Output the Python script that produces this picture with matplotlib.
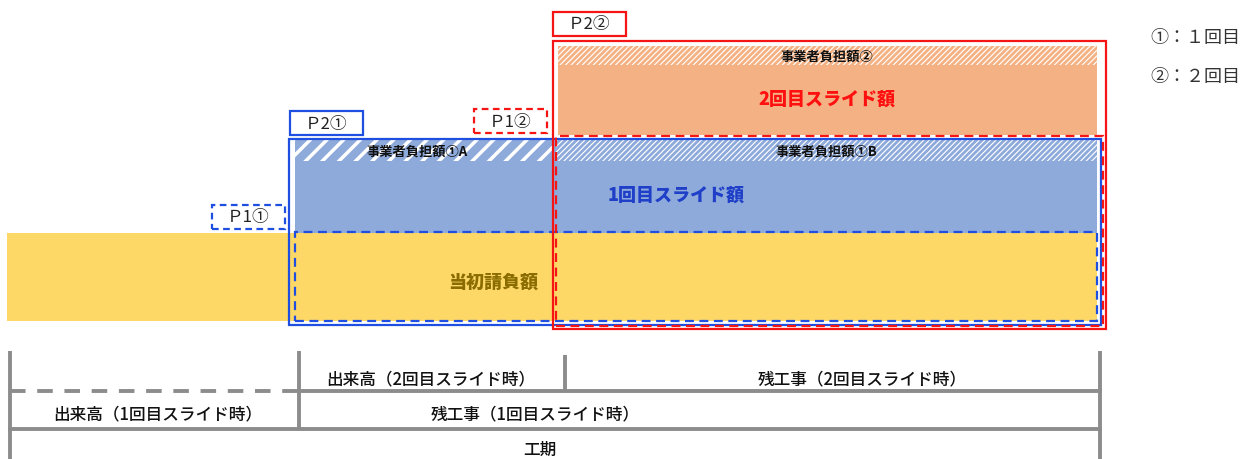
import matplotlib
matplotlib.use("Agg")
import matplotlib.pyplot as plt
from matplotlib.patches import Rectangle

plt.rcParams['font.family'] = ['Noto Sans CJK JP', 'DejaVu Sans']

# ---- data (diagram units: x = time, y = amount) ----
phase_times = [7, 290, 553, 1100]          # start, 1st slide, 2nd slide, completion
table_marks = [10, 299, 565, 1100]         # schedule table divisions
amount_labels = ["当初請負額", "1回目スライド額", "2回目スライド額"]
base_level = 138
amount_heights = [88, 93, 89]
burden_heights = [0, 21, 19]
burden_labels = ["事業者負担額①A", "事業者負担額①B", "事業者負担額②"]
price_labels = ["Ｐ1①", "Ｐ2①", "Ｐ1②", "Ｐ2②"]
legend_labels = ["①：１回目", "②：２回目"]
row_labels_top = ["出来高（2回目スライド時）", "残工事（2回目スライド時）"]
row_labels_mid = ["出来高（1回目スライド時）", "残工事（1回目スライド時）"]
row_label_bottom = "工期"

# ---- styles ----
YELLOW = "#fdd867"
BLUEF = "#8eaadb"
ORANGE = "#f4b183"
BLUE = "#1f4fe0"
RED = "#f51515"
GRAY = "#8c8c8c"

fig = plt.figure(figsize=(12.55, 4.6), dpi=100)
ax = fig.add_axes([0, 0, 1, 1])
ax.set_xlim(0, 1255)
ax.set_ylim(0, 460)
ax.axis("off")

t0, t1, t2, t3 = phase_times
y0 = base_level
y1 = y0 + amount_heights[0]
y2 = y1 + amount_heights[1]
gap = 5
y3b = y2 + gap
y3 = y3b + amount_heights[2]

# yellow original contract
ax.add_patch(Rectangle((t0, y0), t3 - 3 - t0, y1 - y0, facecolor=YELLOW, edgecolor="none", zorder=1))
# blue slide 1
ax.add_patch(Rectangle((t1 + 5, y1), t3 - 3 - (t1 + 5), y2 - y1, facecolor=BLUEF, edgecolor="none", zorder=1))
# burden 1A hatch (white stripes on blue)
plt.rcParams['hatch.linewidth'] = 2.5
ax.add_patch(Rectangle((t1 + 5, y2 - burden_heights[1]), t2 - (t1 + 5), burden_heights[1],
                       facecolor=BLUEF, edgecolor="white", hatch="//", linewidth=0, zorder=2))
# burden 1B hatch (blue stripes on white)
plt.rcParams['hatch.linewidth'] = 2.0
ax.add_patch(Rectangle((t2 + 3, y2 - burden_heights[1]), t3 - 3 - (t2 + 3), burden_heights[1],
                       facecolor="white", edgecolor=BLUEF, hatch="//////", linewidth=0, zorder=2))
# orange slide 2
ax.add_patch(Rectangle((t2 + 5, y3b), t3 - 3 - (t2 + 5), y3 - y3b, facecolor=ORANGE, edgecolor="none", zorder=1))
ax.add_patch(Rectangle((t2 + 5, y3 - burden_heights[2]), t3 - 3 - (t2 + 5), burden_heights[2],
                       facecolor="white", edgecolor=ORANGE, hatch="//////", linewidth=0, zorder=2))

# outlines
def box(x0, yb, x1, yt, color, ls, lw=2.0, z=5):
    ax.add_patch(Rectangle((x0, yb), x1 - x0, yt - yb, facecolor="none", edgecolor=color,
                           linestyle=ls, linewidth=lw, zorder=z))

box(t1 + 5, y0, t3 - 3, y1 + 1, BLUE, (0, (4, 2.5)), 1.6)
box(t1 - 1, y0 - 4, t3 + 1, y2 + 1, BLUE, "-", 1.6)
box(t2 + 3, y0 - 5, t3 + 3, y2 + 4, RED, (0, (4, 2.5)), 1.6)
box(t2, y0 - 8, t3 + 6, y3 + 5, RED, "-", 1.6)

# price labels boxes
bw, bh = 73, 24
label_boxes = [
    (t1 - 5 - bw, y1 + 4, BLUE, (0, (3, 2))),
    (t1, y2 + 5, BLUE, "-"),
    (t2 - 6 - bw, y2 + 7, RED, (0, (3, 2))),
    (t2, y3 + 10, RED, "-"),
]
for (bx, by, c, ls), lab in zip(label_boxes, price_labels):
    box(bx, by, bx + bw, by + bh, c, ls, 1.6)
    ax.text(bx + bw / 2, by + bh / 2, lab, ha="center", va="center", fontsize=12, color="#222222", zorder=6)

# area texts
ax.text(493, (y0 + y1) / 2 - 4, amount_labels[0], ha="center", va="center",
        fontsize=13, fontweight="heavy", color="#8a6c00", zorder=6)
ax.text(676, (y1 + y2 - burden_heights[1]) / 2 + 3, amount_labels[1], ha="center", va="center",
        fontsize=13, fontweight="heavy", color="#1f3fc8", zorder=6)
ax.text((t2 + t3) / 2, (y3b + y3 - burden_heights[2]) / 2 + 2, amount_labels[2], ha="center", va="center",
        fontsize=13, fontweight="heavy", color="#ff1010", zorder=6)
ax.text((t1 + t2) / 2 - 4, y2 - burden_heights[1] / 2, burden_labels[0], ha="center", va="center",
        fontsize=9.5, fontweight="bold", color="#111111", zorder=6)
ax.text((t2 + t3) / 2, y2 - burden_heights[1] / 2, burden_labels[1], ha="center", va="center",
        fontsize=9.5, fontweight="bold", color="#111111", zorder=6)
ax.text((t2 + t3) / 2, y3 - burden_heights[2] / 2, burden_labels[2], ha="center", va="center",
        fontsize=9.5, fontweight="bold", color="#111111", zorder=6)

# legend
for i, lab in enumerate(legend_labels):
    ax.text(1150, 422 - 39 * i, lab, ha="left", va="center", fontsize=13, color="#333333")

# schedule table
m0, m1, m2, m3 = table_marks
top, r1, r2, bot = 108, 68, 30, 0
lw = 2.8
ax.plot([m0, m0], [bot, top], color=GRAY, lw=lw, solid_capstyle="butt")
ax.plot([m3, m3], [bot, top], color=GRAY, lw=lw, solid_capstyle="butt")
ax.plot([m1, m1], [r2, top], color=GRAY, lw=lw, solid_capstyle="butt")
ax.plot([m2, m2], [r1, 104], color=GRAY, lw=lw, solid_capstyle="butt")
ax.plot([m0, m1], [r1, r1], color=GRAY, lw=lw, linestyle=(0, (4, 3)))
ax.plot([m1, m3], [r1, r1], color=GRAY, lw=lw)
ax.plot([m0, m3], [r2, r2], color=GRAY, lw=lw)

tkw = dict(ha="center", va="center", fontsize=12, fontweight="medium", color="#111111")
ax.text(431, 81, row_labels_top[0], **tkw)
ax.text(862, 81, row_labels_top[1], **tkw)
ax.text(158, 46, row_labels_mid[0], **tkw)
ax.text(535, 46, row_labels_mid[1], **tkw)
ax.text(540, 10, row_label_bottom, **tkw)

fig.savefig("out.png", dpi=100)
